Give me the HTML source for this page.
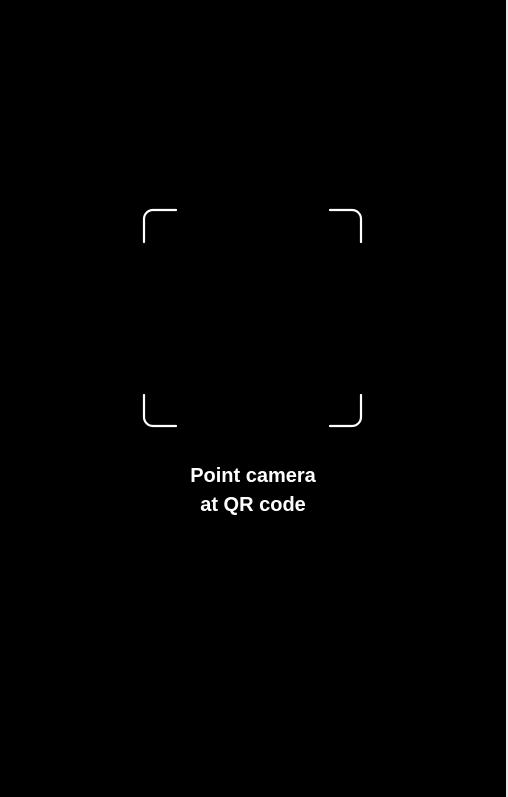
<!DOCTYPE html>
<html><head><style>
body{margin:0;width:508px;height:797px;background:#000;overflow:hidden;position:relative;font-family:"Liberation Sans",sans-serif}
.edge{position:absolute;left:506px;top:0;width:2px;height:797px;background:#e8e8e8}
.txt{position:absolute;left:0;width:506px;top:462px;text-align:center;color:#fff;font-size:20px;font-weight:bold;line-height:29px}
</style></head><body>
<svg width="508" height="797" style="position:absolute;left:0;top:0">
<g fill="none" stroke="#fff" stroke-width="2.2" stroke-linecap="round">
<path d="M144 242 V219 A9 9 0 0 1 153 210 H176"/>
<path d="M330 210 H352 A9 9 0 0 1 361 219 V242"/>
<path d="M144 395 V417 A9 9 0 0 0 153 426 H176"/>
<path d="M330 426 H352 A9 9 0 0 0 361 417 V395"/>
</g></svg>
<div class="txt">Point camera<br>at QR code</div>
<div class="edge"></div>
</body></html>
